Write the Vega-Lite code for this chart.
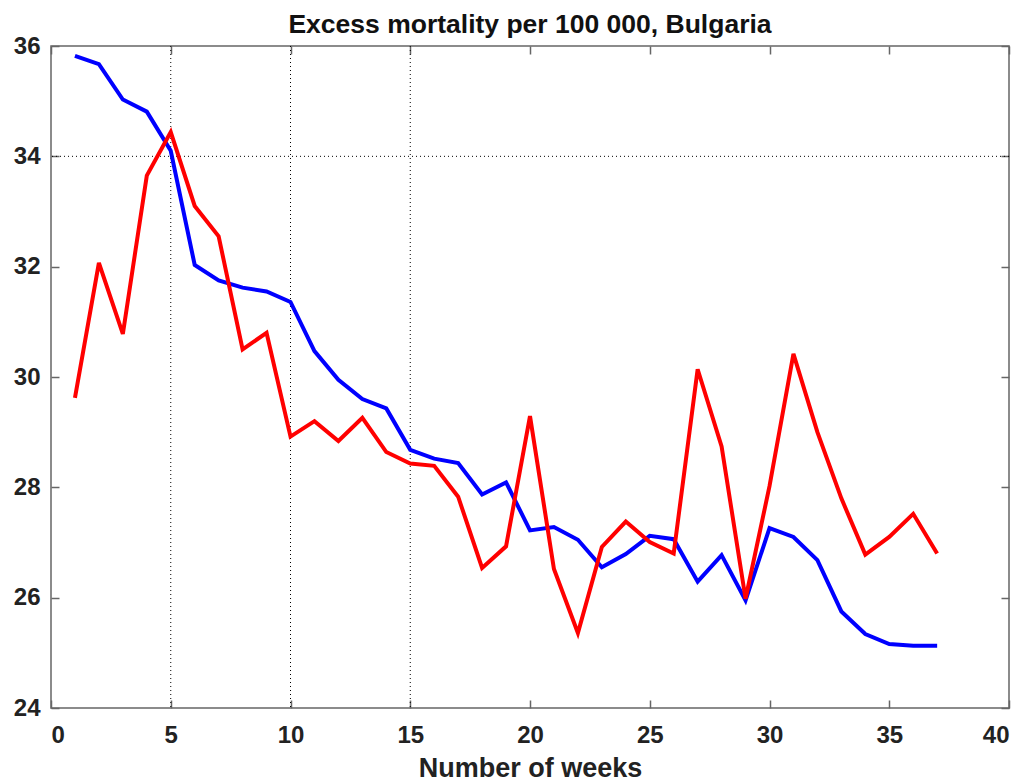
{
  "$schema": "https://vega.github.io/schema/vega-lite/v6.json",
  "autosize": {"type": "none"},
  "width": 958,
  "height": 662,
  "padding": {"left": 51, "top": 46, "right": 27, "bottom": 72},
  "background": "white",
  "config": {
    "view": {"stroke": "#666666", "strokeWidth": 1.5},
    "font": "Liberation Sans"
  },
  "title": {
    "text": "Excess mortality per 100 000, Bulgaria",
    "fontSize": 26.5,
    "fontWeight": "bold",
    "font": "Liberation Sans",
    "color": "#111111",
    "offset": -4,
    "anchor": "middle"
  },
  "datasets": {
    "vgrid": [{"week": 5}, {"week": 10}, {"week": 15}],
    "hgrid": [{"value": 34}],
    "series": [
      {"week": 1, "value": 35.82, "series": "Series A"},
      {"week": 2, "value": 35.67, "series": "Series A"},
      {"week": 3, "value": 35.03, "series": "Series A"},
      {"week": 4, "value": 34.81, "series": "Series A"},
      {"week": 5, "value": 34.1, "series": "Series A"},
      {"week": 6, "value": 32.03, "series": "Series A"},
      {"week": 7, "value": 31.75, "series": "Series A"},
      {"week": 8, "value": 31.62, "series": "Series A"},
      {"week": 9, "value": 31.55, "series": "Series A"},
      {"week": 10, "value": 31.36, "series": "Series A"},
      {"week": 11, "value": 30.47, "series": "Series A"},
      {"week": 12, "value": 29.95, "series": "Series A"},
      {"week": 13, "value": 29.6, "series": "Series A"},
      {"week": 14, "value": 29.43, "series": "Series A"},
      {"week": 15, "value": 28.68, "series": "Series A"},
      {"week": 16, "value": 28.52, "series": "Series A"},
      {"week": 17, "value": 28.44, "series": "Series A"},
      {"week": 18, "value": 27.87, "series": "Series A"},
      {"week": 19, "value": 28.09, "series": "Series A"},
      {"week": 20, "value": 27.22, "series": "Series A"},
      {"week": 21, "value": 27.28, "series": "Series A"},
      {"week": 22, "value": 27.05, "series": "Series A"},
      {"week": 23, "value": 26.55, "series": "Series A"},
      {"week": 24, "value": 26.79, "series": "Series A"},
      {"week": 25, "value": 27.12, "series": "Series A"},
      {"week": 26, "value": 27.06, "series": "Series A"},
      {"week": 27, "value": 26.29, "series": "Series A"},
      {"week": 28, "value": 26.77, "series": "Series A"},
      {"week": 29, "value": 25.95, "series": "Series A"},
      {"week": 30, "value": 27.26, "series": "Series A"},
      {"week": 31, "value": 27.1, "series": "Series A"},
      {"week": 32, "value": 26.68, "series": "Series A"},
      {"week": 33, "value": 25.75, "series": "Series A"},
      {"week": 34, "value": 25.34, "series": "Series A"},
      {"week": 35, "value": 25.16, "series": "Series A"},
      {"week": 36, "value": 25.13, "series": "Series A"},
      {"week": 37, "value": 25.13, "series": "Series A"},
      {"week": 1, "value": 29.62, "series": "Series B"},
      {"week": 2, "value": 32.07, "series": "Series B"},
      {"week": 3, "value": 30.78, "series": "Series B"},
      {"week": 4, "value": 33.65, "series": "Series B"},
      {"week": 5, "value": 34.44, "series": "Series B"},
      {"week": 6, "value": 33.1, "series": "Series B"},
      {"week": 7, "value": 32.55, "series": "Series B"},
      {"week": 8, "value": 30.5, "series": "Series B"},
      {"week": 9, "value": 30.8, "series": "Series B"},
      {"week": 10, "value": 28.92, "series": "Series B"},
      {"week": 11, "value": 29.2, "series": "Series B"},
      {"week": 12, "value": 28.84, "series": "Series B"},
      {"week": 13, "value": 29.26, "series": "Series B"},
      {"week": 14, "value": 28.64, "series": "Series B"},
      {"week": 15, "value": 28.43, "series": "Series B"},
      {"week": 16, "value": 28.39, "series": "Series B"},
      {"week": 17, "value": 27.83, "series": "Series B"},
      {"week": 18, "value": 26.54, "series": "Series B"},
      {"week": 19, "value": 26.93, "series": "Series B"},
      {"week": 20, "value": 29.29, "series": "Series B"},
      {"week": 21, "value": 26.52, "series": "Series B"},
      {"week": 22, "value": 25.36, "series": "Series B"},
      {"week": 23, "value": 26.92, "series": "Series B"},
      {"week": 24, "value": 27.38, "series": "Series B"},
      {"week": 25, "value": 27.01, "series": "Series B"},
      {"week": 26, "value": 26.8, "series": "Series B"},
      {"week": 27, "value": 30.14, "series": "Series B"},
      {"week": 28, "value": 28.74, "series": "Series B"},
      {"week": 29, "value": 25.98, "series": "Series B"},
      {"week": 30, "value": 28.02, "series": "Series B"},
      {"week": 31, "value": 30.42, "series": "Series B"},
      {"week": 32, "value": 29.0, "series": "Series B"},
      {"week": 33, "value": 27.8, "series": "Series B"},
      {"week": 34, "value": 26.78, "series": "Series B"},
      {"week": 35, "value": 27.1, "series": "Series B"},
      {"week": 36, "value": 27.52, "series": "Series B"},
      {"week": 37, "value": 26.8, "series": "Series B"}
    ]
  },
  "layer": [
    {
      "data": {"name": "vgrid"},
      "mark": {"type": "rule", "strokeDash": [1, 3], "color": "#000000", "strokeWidth": 1},
      "encoding": {
        "x": {
          "field": "week",
          "type": "quantitative",
          "scale": {"domain": [0, 40], "nice": false, "zero": false},
          "axis": {
            "orient": "top",
            "values": [0, 5, 10, 15, 20, 25, 30, 35, 40],
            "labels": false,
            "tickSize": -8,
            "tickColor": "#666666",
            "tickWidth": 1.5,
            "domain": false,
            "grid": false,
            "title": null
          }
        }
      }
    },
    {
      "data": {"name": "hgrid"},
      "mark": {"type": "rule", "strokeDash": [1, 3], "color": "#000000", "strokeWidth": 1},
      "encoding": {
        "y": {
          "field": "value",
          "type": "quantitative",
          "scale": {"domain": [24, 36], "nice": false, "zero": false},
          "axis": {
            "orient": "right",
            "values": [24, 26, 28, 30, 32, 34, 36],
            "labels": false,
            "tickSize": -8,
            "tickColor": "#666666",
            "tickWidth": 1.5,
            "domain": false,
            "grid": false,
            "title": null
          }
        }
      }
    },
    {
      "data": {"name": "series"},
      "mark": {"type": "line", "strokeWidth": 4, "strokeJoin": "miter"},
      "encoding": {
        "x": {
          "field": "week",
          "type": "quantitative",
          "scale": {"domain": [0, 40], "nice": false, "zero": false},
          "axis": {
            "orient": "bottom",
            "values": [0, 5, 10, 15, 20, 25, 30, 35, 40],
            "tickSize": -8,
            "tickColor": "#666666",
            "tickWidth": 1.5,
            "domain": false,
            "grid": false,
            "labelFont": "Liberation Sans",
            "labelFontSize": 24,
            "labelFontWeight": "bold",
            "labelColor": "#222222",
            "labelPadding": 23,
            "title": "Number of weeks",
            "titleFont": "Liberation Sans",
            "titleFontSize": 27,
            "titleFontWeight": "bold",
            "titleColor": "#222222",
            "titlePadding": 8
          }
        },
        "y": {
          "field": "value",
          "type": "quantitative",
          "scale": {"domain": [24, 36], "nice": false, "zero": false},
          "axis": {
            "orient": "left",
            "values": [24, 26, 28, 30, 32, 34, 36],
            "tickSize": -8,
            "tickColor": "#666666",
            "tickWidth": 1.5,
            "domain": false,
            "grid": false,
            "labelFont": "Liberation Sans",
            "labelFontSize": 24,
            "labelFontWeight": "bold",
            "labelColor": "#222222",
            "labelPadding": 19,
            "title": null
          }
        },
        "color": {
          "field": "series",
          "type": "nominal",
          "scale": {"domain": ["Series A", "Series B"], "range": ["#0000ff", "#ff0000"]},
          "legend": null
        }
      }
    }
  ],
  "resolve": {"axis": {"x": "independent", "y": "independent"}}
}
